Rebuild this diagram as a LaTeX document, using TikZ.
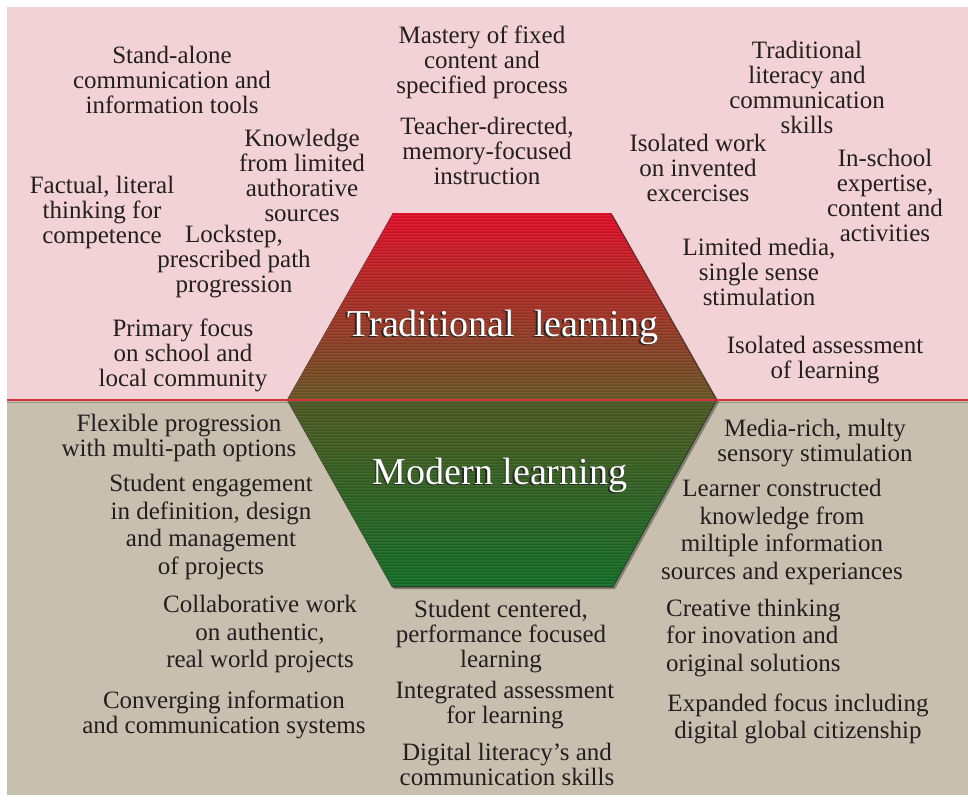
\documentclass[tikz,border=0pt]{standalone}
\usepackage{fontspec}
\setmainfont{Liberation Serif}
\usepackage{tikz}

\definecolor{pinkbg}{RGB}{242,210,214}
\definecolor{graybg}{RGB}{201,191,175}
\definecolor{tradred}{RGB}{226,16,42}
\definecolor{tradmid}{RGB}{200,30,40}
\definecolor{olive}{RGB}{106,88,40}
\definecolor{olivegreen}{RGB}{80,90,36}
\definecolor{modgreen}{RGB}{30,128,48}
\definecolor{modgreendk}{RGB}{22,110,40}
\definecolor{sepred}{RGB}{214,48,56}
\definecolor{inktxt}{RGB}{35,31,32}

\begin{document}
\begin{tikzpicture}[x=1pt,y=-1pt,
  itemtxt/.style={font=\fontsize{25}{25}\selectfont,align=center,text=inktxt,inner sep=0pt},
  itemtxtw/.style={itemtxt,font=\fontsize{25}{27.7}\selectfont},
  biglabel/.style={font=\fontsize{38}{38}\selectfont,text=white,inner sep=0pt},
  bigshadow/.style={font=\fontsize{38}{38}\selectfont,text=black!85,inner sep=0pt}]
\useasboundingbox (0,0) rectangle (968,805);
% two halves
\fill[pinkbg] (7,7) rectangle (968,400);
\fill[graybg] (7,400) rectangle (968,795);
% hexagon
\fill[black,opacity=.35] (395,215) -- (613,215) -- (719,402) -- (615,589) -- (394,589) -- (289,402) -- cycle;
\fill[top color=tradred,middle color=tradmid,bottom color=olive] (393,213) -- (611,213) -- (717,400) -- (287,400) -- cycle;
\fill[top color=olivegreen,middle color=modgreen,bottom color=modgreendk] (287,400) -- (717,400) -- (613,587) -- (392,587) -- cycle;
\begin{scope}
\clip (393,213) -- (611,213) -- (717,400) -- (613,587) -- (392,587) -- (287,400) -- cycle;
\foreach \yy in {214,217,...,586}
  \draw[black,opacity=.09,line width=.7] (280,\yy) -- (725,\yy);
\foreach \yy in {215.5,218.5,...,586}
  \draw[white,opacity=.05,line width=.5] (280,\yy) -- (725,\yy);
\draw[black!80,line width=1.2] (611,213) -- (717,400) -- (613,587) -- (392,587);
\end{scope}
% separator
\draw[black!60,opacity=.5,line width=1] (7,402) -- (968,402);
\draw[sepred,line width=2.6] (7,400) -- (968,400);

\draw(503,327) node[bigshadow,xshift=-1.6pt,yshift=-1.2pt] (tradshd) {Traditional\hspace{0.25em} learning};
\draw(503,327) node[biglabel] (trad) {Traditional\hspace{0.25em} learning};
\draw(500,475) node[bigshadow,xshift=-1.6pt,yshift=-1.2pt] (modshd) {Modern learning};
\draw(500,475) node[biglabel] (mod) {Modern learning};

% traditional side
\draw(172,80) node[itemtxt] (standalone) {Stand-alone\\communication and\\information tools};
\draw(302,175) node[itemtxt] (knowledge) {Knowledge\\from limited\\authorative\\sources};
\draw(102,212) node[itemtxt] (factual) {Factual, literal\\thinking for\\competence};
\draw(234,262) node[itemtxt] (lockstep) {Lockstep,\\prescribed path\\progression};
\draw(183,355) node[itemtxt] (primary) {Primary focus\\on school and\\local community};
\draw(482,62) node[itemtxt] (mastery) {Mastery of fixed\\content and\\specified process};
\draw(487,151) node[itemtxt] (teacher) {Teacher-directed,\\memory-focused\\instruction};
\draw(807,87) node[itemtxt] (tradlit) {Traditional\\literacy and\\communication\\skills};
\draw(698,168) node[itemtxt] (isolwork) {Isolated work\\on invented\\excercises};
\draw(885,195) node[itemtxt] (inschool) {In-school\\expertise,\\content and\\activities};
\draw(759,272) node[itemtxt] (limited) {Limited media,\\single sense\\stimulation};
\draw(825,360) node[itemtxt] (isolassess) {Isolated assessment\\of learning};

% modern side
\draw(179,438) node[itemtxt] (flexible) {Flexible progression\\with multi-path options};
\draw(211,527) node[itemtxtw] (engage) {Student engagement\\in definition, design\\and management\\of projects};
\draw(260,634) node[itemtxtw] (collab) {Collaborative work\\on authentic,\\real world projects};
\draw(224,715) node[itemtxt] (converge) {Converging information\\and communication systems};
\draw(501,637) node[itemtxt] (centered) {Student centered,\\performance focused\\learning};
\draw(505,705) node[itemtxt] (integrated) {Integrated assessment\\for learning};
\draw(507,764) node[itemtxt] (digital) {Digital literacy’s and\\communication skills};
\draw(815,443) node[itemtxt] (mediarich) {Media-rich, multy\\sensory stimulation};
\draw(782,532) node[itemtxtw] (learner) {Learner constructed\\knowledge from\\miltiple information\\sources and experiances};
\draw(666,638) node[itemtxtw,align=left,anchor=west] (creative) {Creative thinking\\for inovation and\\original solutions};
\draw(798,719) node[itemtxtw] (expanded) {Expanded focus including\\digital global citizenship};
\end{tikzpicture}
\end{document}
